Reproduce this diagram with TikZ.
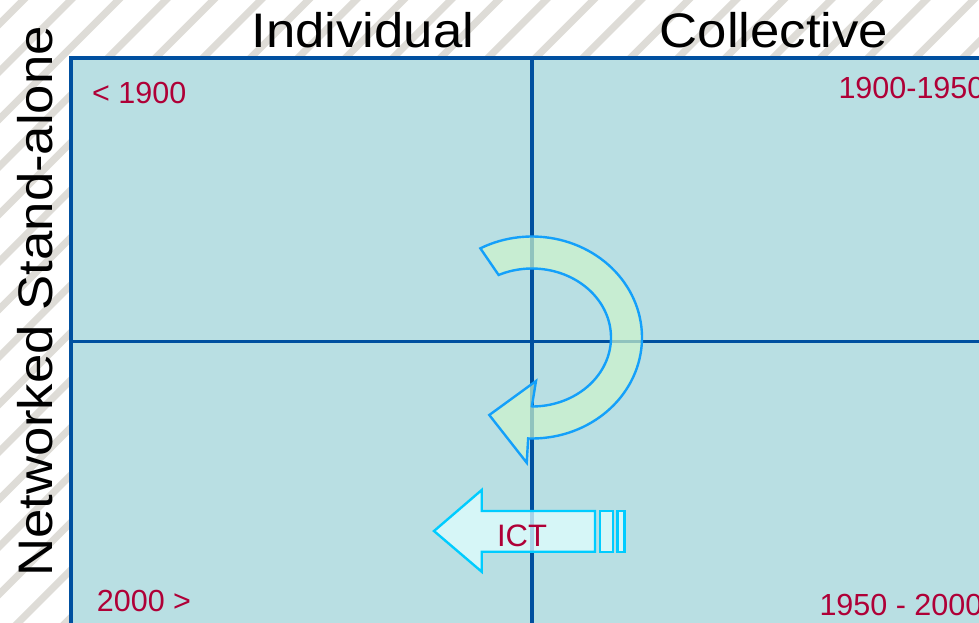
\documentclass[tikz,border=0pt]{standalone}
\usepackage{fontspec}
\setmainfont{Liberation Sans}
\begin{document}
\begin{tikzpicture}[x=1pt,y=-1pt]
\definecolor{stripecol}{RGB}{222,220,215}
\definecolor{panelfill}{RGB}{185,223,227}
\definecolor{panelline}{RGB}{0,80,160}
\definecolor{yrred}{RGB}{175,0,55}
\definecolor{curvefill}{RGB}{206,244,203}
\definecolor{curveline}{RGB}{20,160,250}
\definecolor{ictfill}{RGB}{225,255,255}
\definecolor{ictline}{RGB}{0,204,255}
\tikzset{
  hdr/.style={font=\fontsize{48.5}{58}\selectfont, inner sep=0pt, anchor=base, text=black},
  yr/.style={font=\fontsize{30.5}{36}\selectfont, inner sep=0pt, anchor=base west, text=yrred},
  divider/.style={draw=panelline, line width=3.8pt},
  curvearrow/.style={draw=curveline, line width=2.4pt, fill=curvefill, fill opacity=0.7, line join=miter},
  ictarrow/.style={draw=ictline, line width=2.4pt, fill=ictfill, fill opacity=0.75, line join=miter}
}
\useasboundingbox (0,0) rectangle (979,622);
\clip (0,0) rectangle (979,622);
% background hatching
\fill[white] (0,0) rectangle (979,622);
\foreach \k in {0,...,35}{
  \draw[stripecol, line width=7pt] ({23.3+47.5*\k+30},-30) -- (-30,{23.3+47.5*\k+30});
}
% panel
\filldraw[fill=panelfill, draw=panelline, line width=3.8pt] (71.3,58.3) rectangle (1010,660);
\coordinate (vtop) at (532,58.3);
\coordinate (vbot) at (532,660);
\coordinate (hleft) at (71.3,341.5);
\coordinate (hright) at (1010,341.5);
\draw[divider] (vtop) -- (vbot);
\draw[divider] (hleft) -- (hright);
% headings
\node[hdr] (indiv) at (363,47.3) {\scalebox{1.087}[1]{Individual}};
\node[hdr] (coll) at (774,47.3) {\scalebox{1.087}[1]{Collective}};
\node[hdr, rotate=90] (side) at (52,301.5) {\scalebox{1.087}[1]{Networked Stand-alone}};
% years
\node[yr] (y1) at (92,103.3) {< 1900};
\node[yr] (y2) at (838.3,98.3) {1900-1950};
\node[yr] (y3) at (96.7,611.7) {2000 >};
\node[yr] (y4) at (819.3,615) {1950 - 2000};
% curved arrow
\draw[curvearrow]
  plot[domain=118:-92, samples=80, variable=\t] ({532+110*cos(\t)}, {337.5-101*sin(\t)})
  -- (526.7,462.7) -- (489.3,415) -- (536,381) -- (531.7,407.3)
  -- plot[domain=-90:115, samples=80, variable=\t] ({532+79*cos(\t)}, {337.5-69*sin(\t)})
  -- cycle;
% ICT arrow
\draw[ictarrow] (434,531) -- (481.7,490) -- (481.7,511) -- (595,511) -- (595,551.7)
  -- (481.7,551.7) -- (481.7,571.7) -- cycle;
\draw[ictarrow] (600,511) rectangle (612.7,551.7);
\draw[ictarrow] (617.3,511) rectangle (624.3,551.7);
\node[font=\fontsize{31}{36}\selectfont, text=yrred, inner sep=0pt, anchor=base] (ict) at (522,546.7) {ICT};
\end{tikzpicture}
\end{document}
